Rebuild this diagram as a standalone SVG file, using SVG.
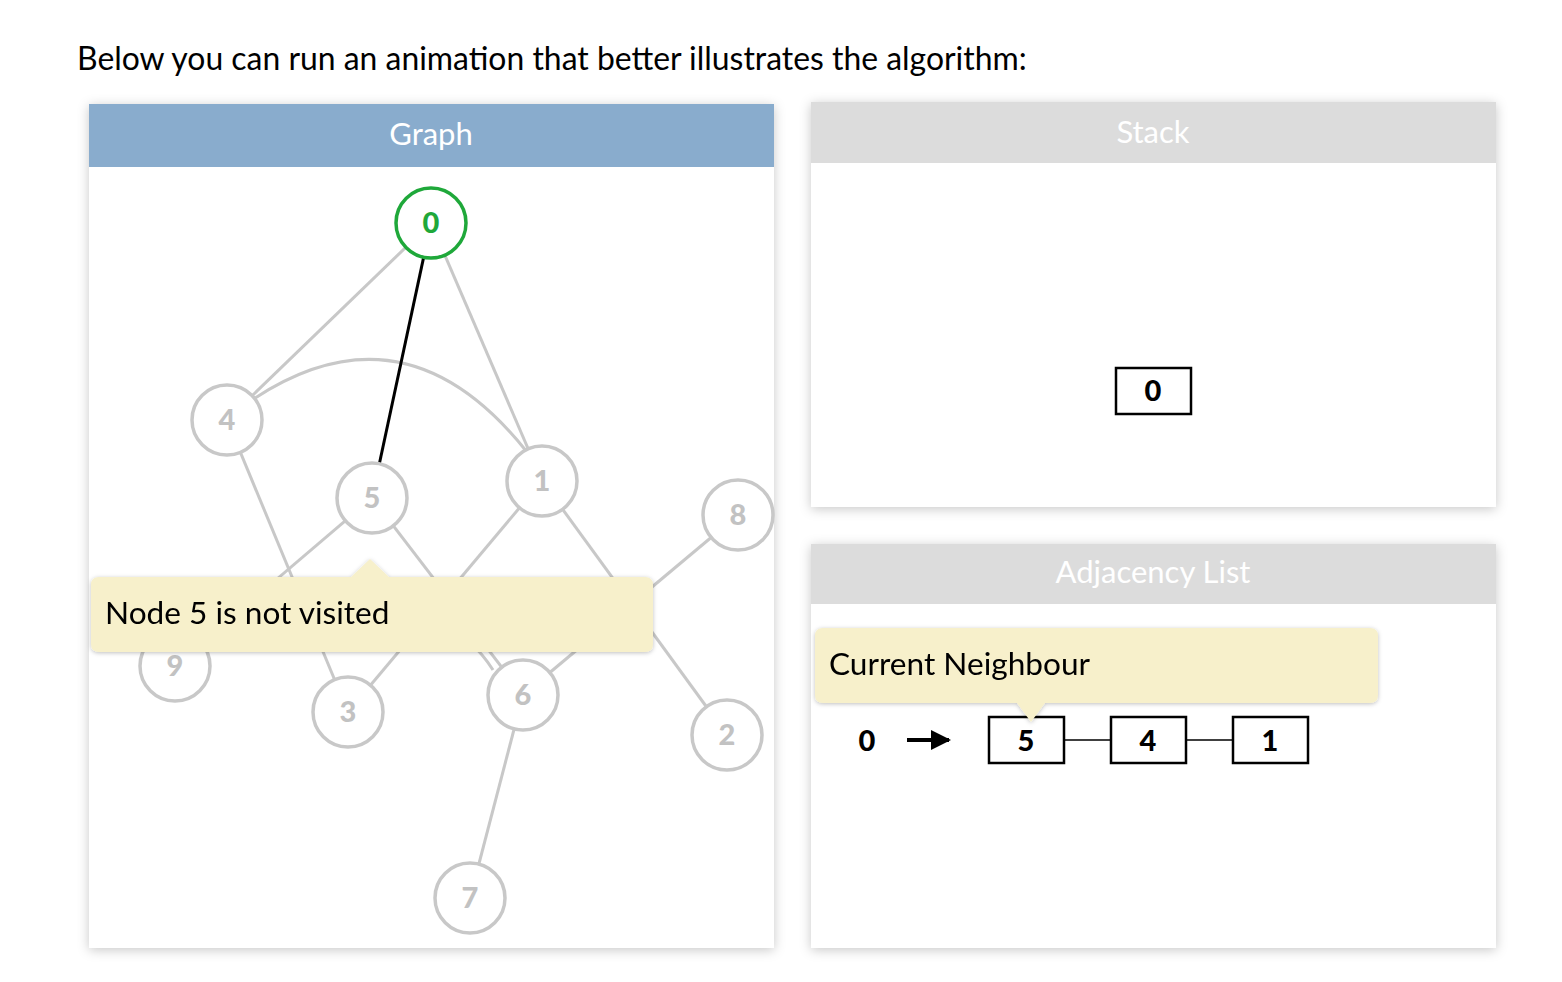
<svg xmlns="http://www.w3.org/2000/svg" width="1562" height="982" viewBox="0 0 1562 982">
<defs>
<filter id="sh" x="-10%" y="-10%" width="120%" height="120%">
<feDropShadow dx="0" dy="2" stdDeviation="6" flood-color="#000" flood-opacity="0.22"/>
</filter>
<filter id="tsh" x="-10%" y="-20%" width="120%" height="140%">
<feDropShadow dx="0" dy="1" stdDeviation="2" flood-color="#000" flood-opacity="0.25"/>
</filter>
<marker id="arr" viewBox="0 0 10 10" refX="9" refY="5" markerWidth="5" markerHeight="5" orient="auto" markerUnits="strokeWidth">
<path d="M0,0 L10,5 L0,10 z" fill="#000"/>
</marker>
</defs>
<style>
text{font-family:Lato,"Open Sans","Liberation Sans",sans-serif}
.hdr{fill:#fff;font-size:31px;text-anchor:middle}
.edge{stroke:#c8c8c8;stroke-width:3;fill:none}
.node circle{fill:#fff;stroke:#c8c8c8;stroke-width:3.5}
.node text{fill:#c2c2c2;font-size:29px;font-weight:900;text-anchor:middle}
.tip{fill:#f7f0cb}
.tiptext{font-size:31.6px;fill:#000}
.box rect{fill:#fff;stroke:#000;stroke-width:2.5}
.box text{font-size:29px;font-weight:900;text-anchor:middle;fill:#000}
</style>
<rect width="1562" height="982" fill="#fff"/>
<text x="77" y="70" font-size="31.9" fill="#000">Below you can run an animation that better illustrates the algorithm:</text>

<!-- Graph panel -->
<g id="graph-panel">
<rect x="89" y="104" width="685" height="844" fill="#fff" filter="url(#sh)"/>
<rect x="89" y="104" width="685" height="63" fill="#89accd"/>
<text class="hdr" x="431" y="145">Graph</text>
</g>

<g id="edges">
<line class="edge" x1="431" y1="223" x2="227" y2="420"/>
<line class="edge" x1="431" y1="223" x2="542" y2="481"/>
<path class="edge" d="M252,400 Q405,298 527,452"/>
<line class="edge" x1="227" y1="420" x2="348" y2="712"/>
<line class="edge" x1="372" y1="498" x2="175" y2="666"/>
<line class="edge" x1="372" y1="498" x2="523" y2="695"/>
<path class="edge" d="M200,640 Q425,562 493,670"/>
<line class="edge" x1="542" y1="481" x2="348" y2="712"/>
<line class="edge" x1="542" y1="481" x2="727" y2="735"/>
<line class="edge" x1="738" y1="515" x2="523" y2="695"/>
<line class="edge" x1="523" y1="695" x2="470" y2="898"/>
<line x1="431" y1="223" x2="372" y2="498" stroke="#000" stroke-width="3"/>
</g>

<g id="node-0" class="node"><circle cx="431" cy="223" r="35" style="stroke:#1fa83a"/><text x="431" y="233" style="fill:#1fa83a">0</text></g>
<g id="node-4" class="node"><circle cx="227" cy="420" r="35"/><text x="227" y="430">4</text></g>
<g id="node-5" class="node"><circle cx="372" cy="498" r="35"/><text x="372" y="508">5</text></g>
<g id="node-1" class="node"><circle cx="542" cy="481" r="35"/><text x="542" y="491">1</text></g>
<g id="node-8" class="node"><circle cx="738" cy="515" r="35"/><text x="738" y="525">8</text></g>
<g id="node-9" class="node"><circle cx="175" cy="666" r="35"/><text x="175" y="676">9</text></g>
<g id="node-3" class="node"><circle cx="348" cy="712" r="35"/><text x="348" y="722">3</text></g>
<g id="node-6" class="node"><circle cx="523" cy="695" r="35"/><text x="523" y="705">6</text></g>
<g id="node-2" class="node"><circle cx="727" cy="735" r="35"/><text x="727" y="745">2</text></g>
<g id="node-7" class="node"><circle cx="470" cy="898" r="35"/><text x="470" y="908">7</text></g>

<g id="tip-graph" filter="url(#tsh)">
<path class="tip" d="M99,577 H351 L370,559 L389,577 H645 Q653,577 653,585 V644 Q653,652 645,652 H99 Q91,652 91,644 V585 Q91,577 99,577 Z"/>
<text class="tiptext" x="105" y="624">Node 5 is not visited</text>
</g>

<!-- Stack panel -->
<g id="stack-panel">
<rect x="811" y="102" width="685" height="405" fill="#fff" filter="url(#sh)"/>
<rect x="811" y="102" width="685" height="61" fill="#dcdcdc"/>
<text class="hdr" x="1153" y="143">Stack</text>
</g>
<g id="stack-0" class="box"><rect x="1116" y="368" width="75" height="46"/><text x="1153" y="401">0</text></g>

<!-- Adjacency panel -->
<g id="adj-panel">
<rect x="811" y="544" width="685" height="404" fill="#fff" filter="url(#sh)"/>
<rect x="811" y="544" width="685" height="60" fill="#dcdcdc"/>
<text class="hdr" x="1153" y="583">Adjacency List</text>
</g>

<g id="adj-links">
<line x1="1064" y1="740" x2="1111" y2="740" stroke="#000" stroke-width="1.5"/>
<line x1="1186" y1="740" x2="1233" y2="740" stroke="#000" stroke-width="1.5"/>
<line x1="907" y1="740" x2="949" y2="740" stroke="#000" stroke-width="4" marker-end="url(#arr)"/>
</g>
<g id="adj-head"><text x="867" y="751" font-size="29" font-weight="900" text-anchor="middle">0</text></g>
<g id="adj-5" class="box"><rect x="989" y="717" width="75" height="46"/><text x="1026" y="751">5</text></g>
<g id="adj-4" class="box"><rect x="1111" y="717" width="75" height="46"/><text x="1148" y="751">4</text></g>
<g id="adj-1" class="box"><rect x="1233" y="717" width="75" height="46"/><text x="1270" y="751">1</text></g>

<g id="tip-adj" filter="url(#tsh)">
<path class="tip" d="M823,628 H1370 Q1378,628 1378,636 V695 Q1378,703 1370,703 H1045 L1031,722 L1017,703 H823 Q815,703 815,695 V636 Q815,628 823,628 Z"/>
<text class="tiptext" x="829" y="675">Current Neighbour</text>
</g>
</svg>
